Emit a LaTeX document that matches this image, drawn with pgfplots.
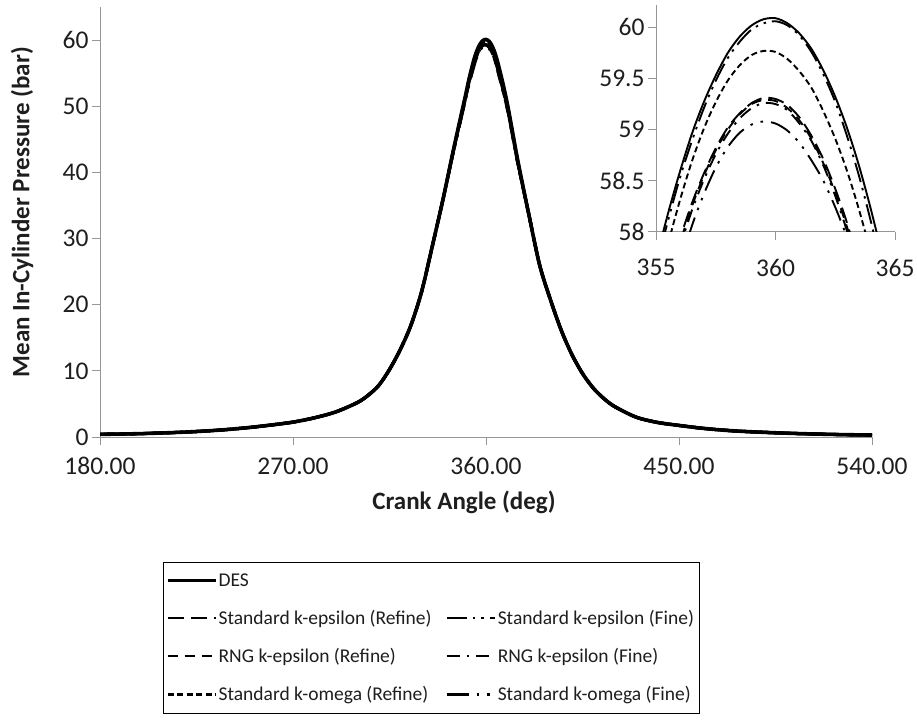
\documentclass[border=0pt]{standalone}
\usepackage{fontspec}
\setmainfont{Carlito}
\usepackage{pgfplots}
\usepackage{pgfplotstable}
\pgfplotsset{compat=1.18}
\definecolor{axisgray}{RGB}{150,150,150}
\definecolor{txt}{RGB}{30,30,30}

\pgfplotstableread{
x     des   sker  skef  rngr  rngf  skwr  skwf
180   0.40  0.40  0.40  0.40  0.40  0.40  0.40
190   0.45  0.45  0.45  0.45  0.45  0.45  0.45
200   0.52  0.52  0.52  0.52  0.52  0.52  0.52
210   0.62  0.62  0.62  0.62  0.62  0.62  0.62
220   0.75  0.75  0.75  0.75  0.75  0.75  0.75
230   0.92  0.92  0.92  0.92  0.92  0.92  0.92
240   1.15  1.15  1.15  1.15  1.15  1.15  1.15
250   1.45  1.45  1.45  1.45  1.45  1.45  1.45
260   1.82  1.82  1.82  1.82  1.82  1.82  1.82
270   2.25  2.25  2.25  2.25  2.25  2.25  2.25
280   2.90  2.90  2.90  2.90  2.90  2.90  2.90
290   3.80  3.80  3.80  3.80  3.80  3.80  3.80
300   5.20  5.20  5.20  5.20  5.20  5.20  5.20
305   6.30  6.30  6.30  6.30  6.30  6.30  6.30
310   7.80  7.80  7.80  7.80  7.80  7.80  7.80
315   10.20 10.20 10.20 10.20 10.20 10.20 10.20
320   13.20 13.20 13.20 13.20 13.20 13.20 13.20
325   16.90 16.90 16.90 16.90 16.90 16.90 16.90
330   22.00 22.00 22.00 22.00 22.00 22.00 22.00
335   28.90 28.90 28.90 28.90 28.90 28.90 28.90
340   36.00 36.00 36.00 36.00 36.00 36.00 36.00
345   43.70 43.52 43.68 43.49 43.49 43.59 43.40
350   51.00 50.64 50.95 50.58 50.57 50.78 50.40
352   54.00 53.52 53.94 53.44 53.43 53.70 53.20
354   56.63 56.03 56.55 55.93 55.92 56.26 55.63
355   57.71 57.08 57.64 57.01 56.99 57.40 56.77
355.5 58.18 57.53 58.11 57.48 57.45 57.88 57.26
356   58.59 57.93 58.53 57.89 57.85 58.31 57.68
356.5 58.96 58.28 58.89 58.25 58.21 58.69 58.06
357   59.27 58.57 59.21 58.55 58.51 59.01 58.37
357.5 59.53 58.82 59.48 58.80 58.76 59.27 58.63
358   59.75 59.02 59.70 59.00 58.96 59.48 58.83
358.5 59.91 59.16 59.86 59.15 59.11 59.63 58.97
359   60.02 59.26 59.98 59.25 59.21 59.73 59.05
359.5 60.08 59.31 60.04 59.29 59.26 59.77 59.08
360   60.09 59.30 60.06 59.28 59.25 59.76 59.06
360.5 60.04 59.24 60.02 59.21 59.19 59.69 58.99
361   59.94 59.12 59.92 59.09 59.06 59.57 58.87
361.5 59.79 58.94 59.76 58.91 58.89 59.41 58.70
362   59.58 58.71 59.54 58.67 58.65 59.18 58.50
362.5 59.32 58.42 59.27 58.38 58.35 58.91 58.24
363   59.01 58.08 58.93 58.04 58.00 58.59 57.94
363.5 58.64 57.67 58.54 57.64 57.59 58.21 57.59
364   58.21 57.22 58.09 57.18 57.12 57.78 57.19
364.5 57.73 56.70 57.58 56.67 56.59 57.30 56.75
365   57.20 56.13 57.01 56.10 56.01 56.76 56.26
366   55.97 54.81 55.70 54.79 54.67 55.54 55.14
368   53.30 52.37 53.08 52.36 52.26 52.96 52.64
370   50.30 49.60 50.14 49.59 49.52 50.04 49.80
372   46.80 46.28 46.68 46.27 46.22 46.61 46.43
375   41.50 41.15 41.42 41.15 41.11 41.37 41.25
380   33.60 33.60 33.60 33.60 33.60 33.60 33.60
385   26.00 26.00 26.00 26.00 26.00 26.00 26.00
390   20.80 20.80 20.80 20.80 20.80 20.80 20.80
395   16.20 16.20 16.20 16.20 16.20 16.20 16.20
400   12.50 12.50 12.50 12.50 12.50 12.50 12.50
405   9.60  9.60  9.60  9.60  9.60  9.60  9.60
410   7.40  7.40  7.40  7.40  7.40  7.40  7.40
415   5.80  5.80  5.80  5.80  5.80  5.80  5.80
420   4.60  4.60  4.60  4.60  4.60  4.60  4.60
430   3.00  3.00  3.00  3.00  3.00  3.00  3.00
440   2.20  2.20  2.20  2.20  2.20  2.20  2.20
450   1.75  1.75  1.75  1.75  1.75  1.75  1.75
460   1.35  1.35  1.35  1.35  1.35  1.35  1.35
470   1.05  1.05  1.05  1.05  1.05  1.05  1.05
480   0.85  0.85  0.85  0.85  0.85  0.85  0.85
490   0.70  0.70  0.70  0.70  0.70  0.70  0.70
500   0.58  0.58  0.58  0.58  0.58  0.58  0.58
510   0.48  0.48  0.48  0.48  0.48  0.48  0.48
520   0.40  0.40  0.40  0.40  0.40  0.40  0.40
530   0.34  0.34  0.34  0.34  0.34  0.34  0.34
540   0.30  0.30  0.30  0.30  0.30  0.30  0.30
}\pdata

\pgfplotsset{
  base/.style={black, line width=2.2pt, line join=round},
  desS/.style={base, solid},
  skerS/.style={base, dash pattern=on 16pt off 7pt},
  skefS/.style={base, dash pattern=on 20pt off 6pt on 2.5pt off 6pt on 2.5pt off 6pt},
  rngrS/.style={base, dash pattern=on 10pt off 7pt},
  rngfS/.style={base, dash pattern=on 13pt off 7pt on 2.5pt off 7pt},
  skwrS/.style={base, dash pattern=on 6pt off 3.5pt},
  skwfS/.style={base, dash pattern=on 22pt off 8pt on 2.5pt off 8pt on 2.5pt off 8pt},
  common/.style={
    scale only axis,
    axis x line=bottom, axis y line=left,
    axis line style={-, draw=axisgray, line width=1pt},
    tick style={draw=axisgray, line width=1pt},
    tick align=outside, major tick length=8pt,
    /pgf/number format/assume math mode=true,
    ticklabel style={text=txt, font=\fontsize{25.5}{30}\selectfont},
  },
}

\begin{document}
\begin{tikzpicture}
\path[use as bounding box] (0,0) rectangle (917pt,725pt);
\begin{axis}[common,
  at={(100pt,288pt)}, anchor=south west,
  width=772pt, height=430pt,
  xmin=180, xmax=540, ymin=0, ymax=65,
  xtick={180,270,360,450,540},
  xticklabels={180.00,270.00,360.00,450.00,540.00},
  xticklabel style={yshift=-9pt},
  ytick={0,10,20,30,40,50,60},
  xlabel={\textbf{Crank Angle (deg)}},
  ylabel={\textbf{Mean In-Cylinder Pressure (bar)}},
  every axis x label/.style={at={(axis description cs:0.4715,-0.151)}, anchor=center,
     text=txt, font=\fontsize{25}{30}\selectfont},
  every axis y label/.style={at={(axis description cs:-0.101,0.523)}, rotate=90, anchor=center,
     text=txt, font=\fontsize{25}{30}\selectfont},
  legend columns=2,
  legend cell align=left,
  legend image code/.code={\draw[#1] (0pt,0pt) -- (48pt,0pt);},
  legend style={at={(axis description cs:0.0816,-0.2907)}, anchor=north west,
    draw=black, line width=0.9pt, fill=white, text=txt,
    font=\fontsize{19.5}{23}\selectfont,
    inner xsep=3pt, inner ysep=9pt,
    /tikz/row sep=18.5pt,
    /tikz/every even column/.append style={column sep=12pt}},
]
\addplot[skerS, line width=3pt, smooth, forget plot] table[x=x, y=sker] {\pdata};
\addplot[skefS, line width=3pt, smooth, forget plot] table[x=x, y=skef] {\pdata};
\addplot[rngrS, line width=3pt, smooth, forget plot] table[x=x, y=rngr] {\pdata};
\addplot[rngfS, line width=3pt, smooth, forget plot] table[x=x, y=rngf] {\pdata};
\addplot[skwrS, line width=3pt, smooth, forget plot] table[x=x, y=skwr] {\pdata};
\addplot[skwfS, line width=3pt, smooth, forget plot] table[x=x, y=skwf] {\pdata};
\addplot[desS, line width=3.6pt, smooth, forget plot] table[x=x, y=des] {\pdata};
\addlegendimage{desS}\addlegendentry{DES}
\addlegendimage{empty legend}\addlegendentry{}
\addlegendimage{skerS}\addlegendentry{Standard k-epsilon (Refine)}
\addlegendimage{skefS}\addlegendentry{Standard k-epsilon (Fine)}
\addlegendimage{rngrS}\addlegendentry{RNG k-epsilon (Refine)}
\addlegendimage{rngfS}\addlegendentry{RNG k-epsilon (Fine)}
\addlegendimage{skwrS}\addlegendentry{Standard k-omega (Refine)}
\addlegendimage{skwfS}\addlegendentry{Standard k-omega (Fine)}
\end{axis}

\begin{axis}[common,
  at={(656pt,493pt)}, anchor=south west,
  width=239pt, height=227pt,
  xmin=355, xmax=365, ymin=58, ymax=60.22,
  xtick={355,360,365},
  xticklabel style={yshift=-16pt},
  ytick={58,58.5,59,59.5,60},
  yticklabels={58,58.5,59,59.5,60},
]
\addplot[skerS, line width=1.9pt, smooth] table[x=x, y=sker] {\pdata};
\addplot[skefS, line width=1.9pt, smooth] table[x=x, y=skef] {\pdata};
\addplot[rngrS, line width=1.9pt, smooth] table[x=x, y=rngr] {\pdata};
\addplot[rngfS, line width=1.9pt, smooth] table[x=x, y=rngf] {\pdata};
\addplot[skwrS, line width=1.9pt, smooth] table[x=x, y=skwr] {\pdata};
\addplot[skwfS, line width=1.9pt, smooth] table[x=x, y=skwf] {\pdata};
\addplot[desS, line width=1.9pt, smooth] table[x=x, y=des] {\pdata};
\end{axis}
\end{tikzpicture}
\end{document}
